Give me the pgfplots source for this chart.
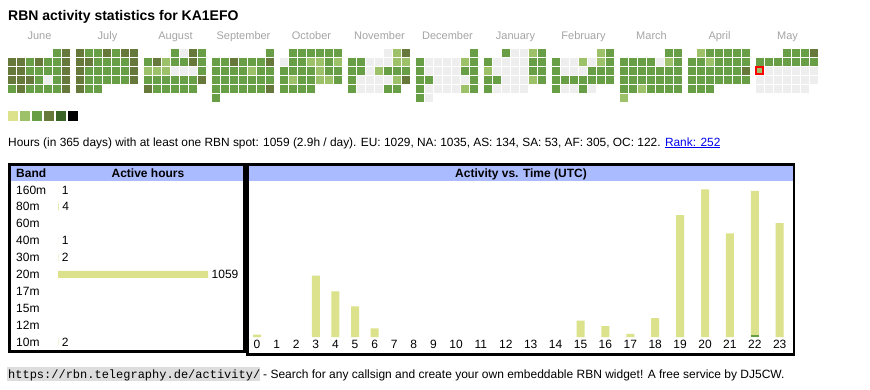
\documentclass[border=0pt]{standalone}
\usepackage{fontspec}
\setmainfont{Liberation Sans}
\setmonofont{Liberation Mono}
\usepackage{pgfplots}
\pgfplotsset{compat=1.18}
\definecolor{cg}{RGB}{238,238,238}
\definecolor{lvA}{RGB}{219,226,139}
\definecolor{lvB}{RGB}{157,193,105}
\definecolor{lvC}{RGB}{104,159,70}
\definecolor{lvD}{RGB}{102,121,58}
\definecolor{lvE}{RGB}{58,99,40}
\definecolor{hdr}{RGB}{170,187,255}
\definecolor{mon}{RGB}{165,165,165}
\definecolor{lnk}{RGB}{0,0,238}
\definecolor{urlbg}{RGB}{221,221,221}
\newcommand{\fs}[1]{\fontsize{#1}{#1}\selectfont}
\tikzset{txt/.style={inner sep=0pt, anchor=base west}}

\begin{document}
\begin{tikzpicture}
% ---------------- master layout axis (1 unit = 1 px) ----------------
\begin{axis}[at={(0pt,0pt)}, anchor=north west, width=870pt, height=390pt,
  scale only axis, xmin=0, xmax=870, ymin=0, ymax=390, y dir=reverse,
  hide axis, clip=false,
  colormap={rbn}{rgb255=(238,238,238) rgb255=(219,226,139) rgb255=(157,193,105)
    rgb255=(104,159,70) rgb255=(102,121,58) rgb255=(58,99,40) rgb255=(0,0,0)},
  point meta min=0, point meta max=6]
\fill[white] (axis cs:0,0) rectangle (axis cs:870,390);

\node[txt, font=\fs{14}\bfseries] at (axis cs:8,20) {RBN activity statistics for KA1EFO};

% month labels
\node[font=\fs{11}, text=mon, anchor=base] at (axis cs:39.5,39) {June};
\node[font=\fs{11}, text=mon, anchor=base] at (axis cs:107.5,39) {July};
\node[font=\fs{11}, text=mon, anchor=base] at (axis cs:175.5,39) {August};
\node[font=\fs{11}, text=mon, anchor=base] at (axis cs:243.5,39) {September};
\node[font=\fs{11}, text=mon, anchor=base] at (axis cs:311.5,39) {October};
\node[font=\fs{11}, text=mon, anchor=base] at (axis cs:379.5,39) {November};
\node[font=\fs{11}, text=mon, anchor=base] at (axis cs:447.5,39) {December};
\node[font=\fs{11}, text=mon, anchor=base] at (axis cs:515.5,39) {January};
\node[font=\fs{11}, text=mon, anchor=base] at (axis cs:583.5,39) {February};
\node[font=\fs{11}, text=mon, anchor=base] at (axis cs:651.5,39) {March};
\node[font=\fs{11}, text=mon, anchor=base] at (axis cs:719.5,39) {April};
\node[font=\fs{11}, text=mon, anchor=base] at (axis cs:787.5,39) {May};

% calendar heatmap: b = month block, c = weekday (Mon=0), r = week row, v = level
\addplot[scatter, only marks, mark=square*, mark size=3.3pt, point meta=explicit,
  mark options={line width=0.4pt},
  scatter/use mapped color={draw=mapped color, fill=mapped color}]
  table[row sep=\\, x expr=8+68*\thisrow{b}+9*\thisrow{c}+3.5, y expr=49+9*\thisrow{r}+3.5, meta=v] {
b c r v\\
0 5 0 3\\0 6 0 4\\
0 0 1 4\\0 1 1 4\\0 2 1 3\\0 3 1 4\\0 4 1 3\\0 5 1 3\\0 6 1 4\\
0 0 2 4\\0 1 2 4\\0 2 2 3\\0 3 2 3\\0 4 2 3\\0 5 2 3\\0 6 2 4\\
0 0 3 4\\0 1 3 4\\0 2 3 4\\0 3 3 3\\0 4 3 0\\0 5 3 3\\0 6 3 4\\
0 0 4 3\\0 1 4 4\\0 2 4 3\\0 3 4 3\\0 4 4 3\\0 5 4 3\\0 6 4 4\\
1 0 0 4\\1 1 0 3\\1 2 0 3\\1 3 0 4\\1 4 0 3\\1 5 0 4\\1 6 0 4\\
1 0 1 4\\1 1 1 4\\1 2 1 3\\1 3 1 3\\1 4 1 3\\1 5 1 3\\1 6 1 4\\
1 0 2 4\\1 1 2 3\\1 2 2 3\\1 3 2 3\\1 4 2 3\\1 5 2 3\\1 6 2 4\\
1 0 3 4\\1 1 3 3\\1 2 3 3\\1 3 3 3\\1 4 3 3\\1 5 3 3\\1 6 3 4\\
1 0 4 4\\1 1 4 3\\1 2 4 3\\
2 3 0 3\\2 4 0 0\\2 5 0 4\\2 6 0 3\\
2 0 1 3\\2 1 1 4\\2 2 1 2\\2 3 1 3\\2 4 1 3\\2 5 1 4\\2 6 1 3\\
2 0 2 2\\2 1 2 2\\2 2 2 2\\2 3 2 0\\2 4 2 0\\2 5 2 0\\2 6 2 3\\
2 0 3 3\\2 1 3 3\\2 2 3 3\\2 3 3 3\\2 4 3 3\\2 5 3 3\\2 6 3 4\\
2 0 4 4\\2 1 4 3\\2 2 4 3\\2 3 4 3\\2 4 4 3\\2 5 4 3\\
3 6 0 3\\
3 0 1 3\\3 1 1 3\\3 2 1 4\\3 3 1 3\\3 4 1 3\\3 5 1 3\\3 6 1 4\\
3 0 2 3\\3 1 2 3\\3 2 2 3\\3 3 2 3\\3 4 2 2\\3 5 2 3\\3 6 2 3\\
3 0 3 3\\3 1 3 3\\3 2 3 3\\3 3 3 3\\3 4 3 3\\3 5 3 3\\3 6 3 3\\
3 0 4 3\\3 1 4 3\\3 2 4 3\\3 3 4 3\\3 4 4 3\\3 5 4 3\\3 6 4 4\\
3 0 5 3\\
4 1 0 3\\4 2 0 3\\4 3 0 3\\4 4 0 3\\4 5 0 3\\4 6 0 3\\
4 0 1 0\\4 1 1 3\\4 2 1 3\\4 3 1 2\\4 4 1 2\\4 5 1 3\\4 6 1 2\\
4 0 2 3\\4 1 2 3\\4 2 2 3\\4 3 2 3\\4 4 2 2\\4 5 2 3\\4 6 2 3\\
4 0 3 3\\4 1 3 2\\4 2 3 3\\4 3 3 3\\4 4 3 2\\4 5 3 2\\4 6 3 3\\
4 0 4 3\\4 1 4 3\\4 2 4 3\\4 3 4 3\\
5 4 0 0\\5 5 0 2\\5 6 0 4\\
5 0 1 3\\5 1 1 3\\5 2 1 0\\5 3 1 0\\5 4 1 0\\5 5 1 2\\5 6 1 2\\
5 0 2 3\\5 1 2 3\\5 2 2 0\\5 3 2 2\\5 4 2 3\\5 5 2 3\\5 6 2 3\\
5 0 3 3\\5 1 3 0\\5 2 3 0\\5 3 3 0\\5 4 3 0\\5 5 3 2\\5 6 3 4\\
5 0 4 3\\5 1 4 0\\5 2 4 0\\5 3 4 0\\5 4 4 3\\5 5 4 3\\
6 6 0 3\\
6 0 1 3\\6 1 1 0\\6 2 1 0\\6 3 1 0\\6 4 1 0\\6 5 1 2\\6 6 1 3\\
6 0 2 3\\6 1 2 0\\6 2 2 0\\6 3 2 0\\6 4 2 0\\6 5 2 3\\6 6 2 3\\
6 0 3 3\\6 1 3 3\\6 2 3 0\\6 3 3 0\\6 4 3 0\\6 5 3 0\\6 6 3 3\\
6 0 4 3\\6 1 4 0\\6 2 4 0\\6 3 4 0\\6 4 4 0\\6 5 4 2\\6 6 4 3\\
6 0 5 3\\6 1 5 0\\
7 2 0 3\\7 3 0 0\\7 4 0 0\\7 5 0 2\\7 6 0 3\\
7 0 1 3\\7 1 1 0\\7 2 1 0\\7 3 1 0\\7 4 1 0\\7 5 1 3\\7 6 1 3\\
7 0 2 2\\7 1 2 0\\7 2 2 0\\7 3 2 0\\7 4 2 0\\7 5 2 3\\7 6 2 3\\
7 0 3 3\\7 1 3 3\\7 2 3 0\\7 3 3 0\\7 4 3 0\\7 5 3 2\\7 6 3 3\\
7 0 4 3\\7 1 4 0\\7 2 4 0\\7 3 4 0\\7 4 4 0\\
8 5 0 2\\8 6 0 3\\
8 0 1 3\\8 1 1 0\\8 2 1 0\\8 3 1 2\\8 4 1 0\\8 5 1 2\\8 6 1 3\\
8 0 2 3\\8 1 2 0\\8 2 2 0\\8 3 2 0\\8 4 2 3\\8 5 2 3\\8 6 2 3\\
8 0 3 3\\8 1 3 3\\8 2 3 3\\8 3 3 3\\8 4 3 3\\8 5 3 3\\8 6 3 3\\
8 0 4 3\\8 1 4 0\\8 2 4 0\\8 3 4 3\\8 4 4 0\\
9 5 0 3\\9 6 0 3\\
9 0 1 3\\9 1 1 3\\9 2 1 3\\9 3 1 3\\9 4 1 0\\9 5 1 2\\9 6 1 3\\
9 0 2 3\\9 1 2 3\\9 2 2 3\\9 3 2 3\\9 4 2 3\\9 5 2 3\\9 6 2 3\\
9 0 3 3\\9 1 3 3\\9 2 3 3\\9 3 3 3\\9 4 3 3\\9 5 3 3\\9 6 3 3\\
9 0 4 3\\9 1 4 3\\9 2 4 2\\9 3 4 3\\9 4 4 3\\9 5 4 3\\9 6 4 3\\
9 0 5 2\\
10 1 0 2\\10 2 0 3\\10 3 0 3\\10 4 0 3\\10 5 0 3\\10 6 0 3\\
10 0 1 3\\10 1 1 3\\10 2 1 2\\10 3 1 3\\10 4 1 3\\10 5 1 3\\10 6 1 3\\
10 0 2 3\\10 1 2 3\\10 2 2 3\\10 3 2 3\\10 4 2 3\\10 5 2 3\\10 6 2 4\\
10 0 3 3\\10 1 3 3\\10 2 3 3\\10 3 3 3\\10 4 3 3\\10 5 3 3\\10 6 3 3\\
10 0 4 3\\10 1 4 3\\10 2 4 3\\
11 3 0 3\\11 4 0 3\\11 5 0 3\\11 6 0 4\\
11 0 1 3\\11 1 1 3\\11 2 1 3\\11 3 1 3\\11 4 1 3\\11 5 1 3\\11 6 1 3\\
11 0 2 2\\11 1 2 0\\11 2 2 0\\11 3 2 0\\11 4 2 0\\11 5 2 0\\11 6 2 0\\
11 0 3 0\\11 1 3 0\\11 2 3 0\\11 3 3 0\\11 4 3 0\\11 5 3 0\\11 6 3 0\\
11 0 4 0\\11 1 4 0\\11 2 4 0\\11 3 4 0\\11 4 4 0\\11 5 4 0\\
};
% today marker
\addplot[only marks, mark=square, mark size=3.3pt, mark options={draw=red, line width=1.5pt}]
  table[row sep=\\, x expr=8+68*\thisrow{b}+9*\thisrow{c}+3.5, y expr=49+9*\thisrow{r}+3.5] {
b c r\\ 11 0 2\\ };

% colour scale swatches
\addplot[scatter, only marks, mark=square*, mark size=4.3pt, point meta=explicit,
  mark options={line width=0.4pt},
  scatter/use mapped color={draw=mapped color, fill=mapped color}]
  table[row sep=\\, x expr=12.5+12*\thisrow{k}, y expr=115.5, meta=v] {
k v\\ 0 1\\ 1 2\\ 2 3\\ 3 4\\ 4 5\\ 5 6\\ };

% summary line
\node[txt, font=\fs{11.9}] at (axis cs:8,146) {Hours (in 365 days) with at least one RBN spot: 1059 (2.9h / day). EU: 1029, NA: 1035, AS: 134, SA: 53, AF: 305, OC: 122. {\color{lnk}\underline{Rank: 252}}};

% boxes
\fill[hdr] (axis cs:11,166) rectangle (axis cs:243.4,181);
\fill[hdr] (axis cs:248.5,165.8) rectangle (axis cs:792.6,180.7);
\draw[line width=2.7pt] (axis cs:9.7,164.7) rectangle (axis cs:244.7,351.3);
\draw[line width=2.7pt] (axis cs:247.2,164.5) rectangle (axis cs:794,354.7);
\node[txt, font=\fs{12}\bfseries] at (axis cs:16,177.5) {Band};
\node[font=\fs{12}\bfseries, inner sep=0pt, anchor=base] at (axis cs:148,177.5) {Active hours};
\node[font=\fs{12}\bfseries, inner sep=0pt, anchor=base] at (axis cs:521,177.5) {Activity vs. Time (UTC)};

% footer
\fill[urlbg] (axis cs:7,367) rectangle (axis cs:260,381);
\node[txt, font=\fs{12}\ttfamily] at (axis cs:8,378) {https://rbn.telegraphy.de/activity/};
\node[txt, font=\fs{12}] at (axis cs:263,378) {- Search for any callsign and create your own embeddable RBN widget! A free service by DJ5CW.};
\end{axis}

% ---------------- band table ----------------
\begin{axis}[at={(58pt,-181.5pt)}, anchor=north west, width=150pt, height=169pt,
  scale only axis, xmin=0, xmax=1059, ymin=-0.5, ymax=9.5, y dir=reverse,
  axis line style={draw=none}, major tick length=0pt, xtick=\empty,
  ytick={0,1,2,3,4,5,6,7,8,9},
  yticklabels={160m,80m,60m,40m,30m,20m,17m,15m,12m,10m},
  yticklabel style={anchor=west, inner sep=0pt, xshift=-42pt, font=\fs{12}},
  clip=false, /pgf/number format/assume math mode=true, /pgf/number format/1000 sep={}]
\addplot[xbar, bar width=7pt, bar shift=0pt, fill=lvA, draw=none,
  nodes near coords, point meta=x,
  nodes near coords style={font=\fs{12}, anchor=west, inner sep=0pt, xshift=3.5pt}]
  coordinates {(1,0) (4,1) (1,3) (2,4) (1059,5) (2,9)};
\end{axis}

% ---------------- activity vs time ----------------
\begin{axis}[at={(246pt,-337pt)}, anchor=south west, width=549pt, height=155pt,
  scale only axis, xmin=246, xmax=795, ymin=0, ymax=197.3,
  axis line style={draw=none}, major tick length=0pt, ytick=\empty,
  xtick={257.0,276.6,296.2,315.8,335.4,355.0,374.6,394.2,413.8,433.4,456.0,480.9,505.8,530.7,555.6,580.5,605.4,630.3,655.2,680.1,705.0,729.9,754.8,779.7},
  xticklabels={0,1,2,3,4,5,6,7,8,9,10,11,12,13,14,15,16,17,18,19,20,21,22,23},
  xticklabel style={font=\fs{12}},
  clip=false]
\addplot[ybar, bar width=8pt, bar shift=0pt, fill=lvA, draw=none]
  table[row sep=\\] {pos val\\
257.0 3\\ 315.8 78\\ 335.4 58\\ 355.0 39\\ 374.6 11\\
580.5 21\\ 605.4 14\\ 630.3 4\\ 655.2 24\\ 680.1 155\\ 705.0 188\\ 729.9 132\\ 754.8 186\\ 779.7 145\\};
\addplot[ybar, bar width=8pt, bar shift=0pt, fill=lvC, draw=none]
  coordinates {(754.8,2)};
\end{axis}
\end{tikzpicture}
\end{document}
